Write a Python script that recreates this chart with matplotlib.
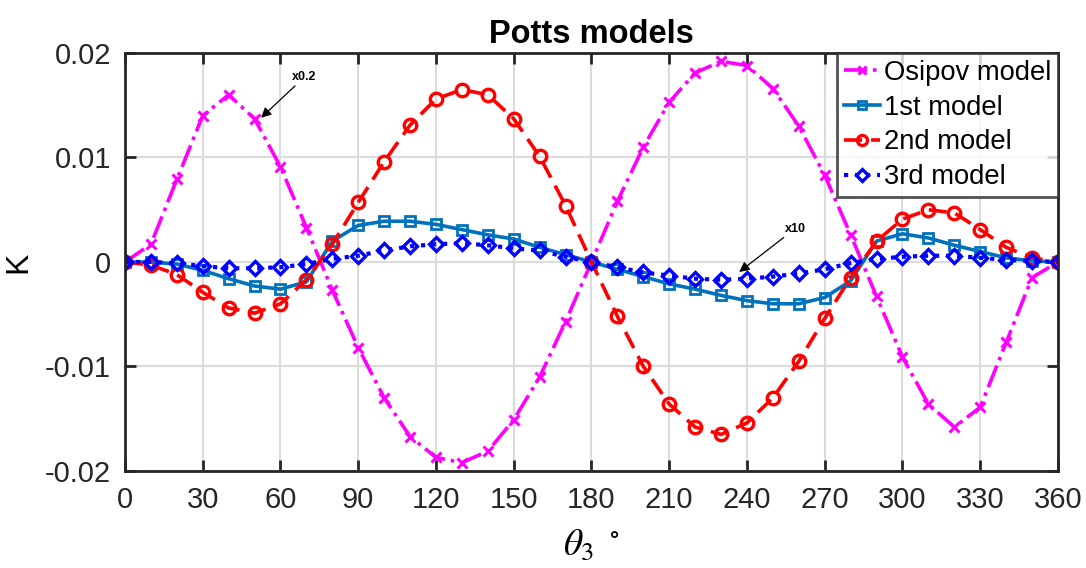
import numpy as np
import matplotlib.pyplot as plt

plt.rcParams['font.family'] = ['Liberation Sans', 'DejaVu Sans']
plt.rcParams['mathtext.fontset'] = 'stix'

theta = np.arange(0, 361, 10)

osipov = [0, 0.0017, 0.0079, 0.0140, 0.0160, 0.0137, 0.0091, 0.0033, -0.0027, -0.0082,
          -0.0130, -0.0167, -0.0187, -0.0192, -0.0181, -0.0151, -0.0110, -0.0057, 0,
          0.0058, 0.0110, 0.0153, 0.0181, 0.0192, 0.0188, 0.0166, 0.0130, 0.0083, 0.0026,
          -0.0033, -0.0091, -0.0136, -0.0158, -0.0139, -0.0077, -0.0015, 0]
model1 = [0, 0, -0.0002, -0.0008, -0.0016, -0.0023, -0.0026, -0.0019, 0.0020, 0.0035,
          0.0039, 0.0039, 0.0036, 0.0031, 0.0026, 0.0022, 0.0014, 0.0007, 0,
          -0.0007, -0.0014, -0.0021, -0.0026, -0.0032, -0.0037, -0.0040, -0.0040, -0.0034, -0.0018,
          0.0020, 0.0027, 0.0023, 0.0016, 0.0010, 0.0004, 0.0001, 0]
model2 = [0, -0.0003, -0.0012, -0.0029, -0.0044, -0.0049, -0.0040, -0.0017, 0.0017, 0.0057,
          0.0096, 0.0131, 0.0156, 0.0165, 0.0160, 0.0137, 0.0101, 0.0054, 0,
          -0.0052, -0.0100, -0.0136, -0.0158, -0.0165, -0.0154, -0.0130, -0.0095, -0.0054, -0.0015,
          0.0020, 0.0041, 0.0050, 0.0047, 0.0031, 0.0014, 0.0004, 0]
model3 = [0, 0, -0.0001, -0.0004, -0.0006, -0.0006, -0.0005, -0.0002, 0.0003, 0.0006,
          0.0011, 0.0015, 0.0017, 0.0018, 0.0016, 0.0013, 0.0011, 0.0005, 0,
          -0.0005, -0.0010, -0.0013, -0.0016, -0.0017, -0.0016, -0.0014, -0.0011, -0.0007, -0.0001,
          0.0003, 0.0005, 0.0006, 0.0006, 0.0004, 0.0002, 0.0001, 0]

xticks = np.arange(0, 361, 30)
yticks = [-0.02, -0.01, 0, 0.01, 0.02]
ytick_labels = ['-0.02', '-0.01', '0', '0.01', '0.02']

fig = plt.figure(figsize=(10.86, 5.68), dpi=100)
ax = fig.add_axes([0.1151, 0.1708, 0.8591, 0.7359])

lw = 2.6
ax.plot(theta, osipov, linestyle='-.', color='#FF00FF', lw=lw, marker='x',
        markersize=7, markeredgewidth=2.2, label='Osipov model')
ax.plot(theta, model1, linestyle='-', color='#0072BD', lw=lw, marker='s',
        markersize=7, markeredgewidth=2.0, fillstyle='none', label='1st model')
ax.plot(theta, model2, linestyle=(0, (5, 2.5)), color='#FF0000', lw=lw, marker='o',
        markersize=9, markeredgewidth=2.4, fillstyle='none', label='2nd model')
ax.plot(theta, model3, linestyle=':', color='#0000FF', lw=lw + 0.4, marker='D',
        markersize=7.5, markeredgewidth=2.4, fillstyle='none', label='3rd model')

arrow = dict(arrowstyle='-|>', color='black', lw=0.9, shrinkA=0, shrinkB=0,
             mutation_scale=15)
ax.annotate('x0.2', xy=(52.5, 0.0138), xytext=(64.5, 0.0174), fontsize=9, fontweight='bold',
            arrowprops=arrow)
ax.annotate('x10', xy=(237, -0.00096), xytext=(254.5, 0.0029), fontsize=9, fontweight='bold',
            arrowprops=arrow)

ax.set_xlim(0, 360)
ax.set_ylim(-0.02, 0.02)
ax.set_xticks(xticks)
ax.set_yticks(yticks)
ax.set_yticklabels(ytick_labels)
ax.grid(True, color='#DCDCDC', lw=1.5)
ax.set_axisbelow(True)
ax.tick_params(direction='in', length=8, width=2, top=True, right=True,
               labelsize=21, colors='#262626')
ax.tick_params(axis='x', pad=11)
ax.tick_params(axis='y', pad=10)
for sp in ax.spines.values():
    sp.set_linewidth(2)
    sp.set_color('#262626')

ax.set_title('Potts models', fontsize=23.5, fontweight='bold', pad=7)
ax.set_ylabel('K', fontsize=23, labelpad=8)
ax.set_xlabel(r'$\theta_3\ ^\circ$', fontsize=27, labelpad=9)

leg = ax.legend(loc='upper right', fontsize=19.7, frameon=True, fancybox=False,
                borderpad=0.25, labelspacing=0.32, handlelength=1.3, handletextpad=0.15,
                borderaxespad=0, markerscale=0.8)
leg.get_frame().set_edgecolor('#262626')
leg.get_frame().set_linewidth(2)

fig.savefig('out.png', dpi=100)
